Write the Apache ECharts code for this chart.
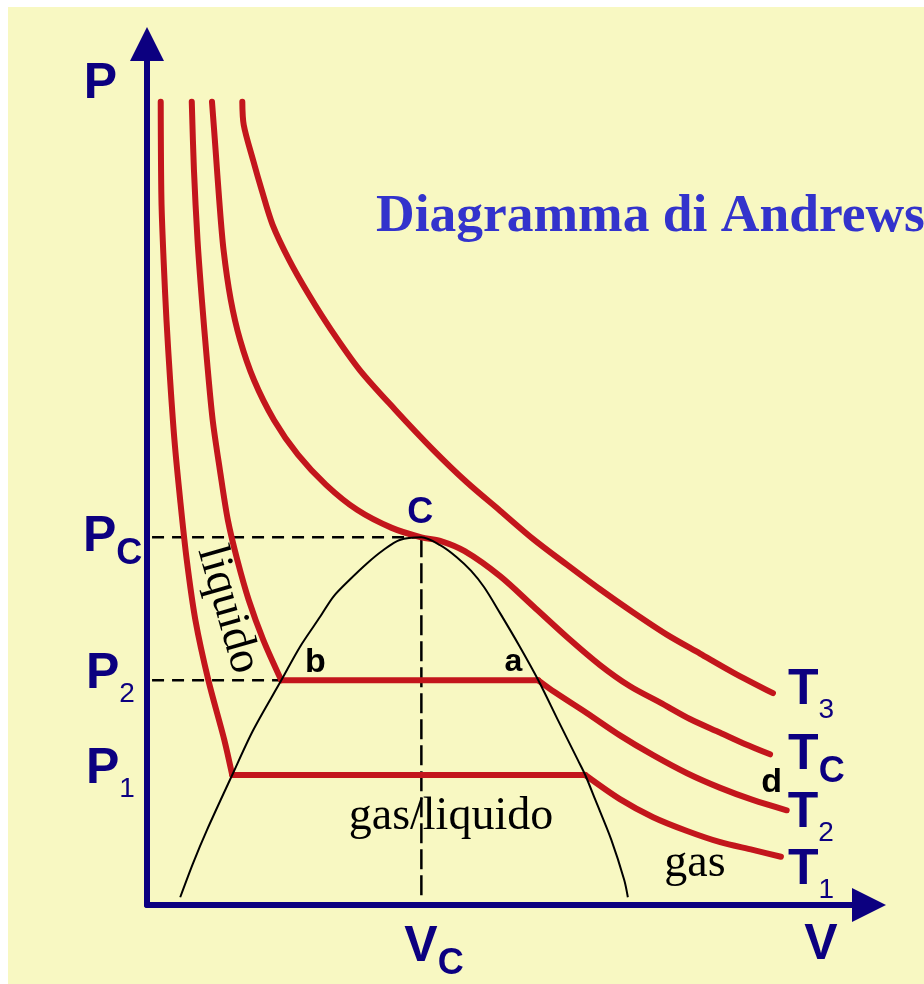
<!DOCTYPE html>
<html>
<head>
<meta charset="utf-8">
<title>Diagramma di Andrews</title>
<script src="https://cdn.jsdelivr.net/npm/echarts@6.0.0/dist/echarts.min.js"></script>
<style>
  html, body { margin: 0; padding: 0; background: #fff; }
  #grafico {
    width: 924px;
    height: 984px;
    background:
      linear-gradient(#fff, #fff) top left / 100% 7px no-repeat,
      linear-gradient(#fff, #fff) top left / 8px 100% no-repeat,
      #f8f8c2;
  }
</style>
</head>
<body>
<div id="grafico"></div>
<script>
const P_C = 42.7;   // pressione critica
const P_2 = 26.1;
const P_1 = 15.1;
const V_C = 38.0;   // volume critico
const V_B = 18.6;   // punto b (inizio condensazione a P2)
const V_A = 54.2;   // punto a (fine condensazione a P2)

// isoterme: ramo liquido, tratto orizzontale, ramo gassoso
const isotermaT1 = [
  [1.9, 93.3], [2.0, 81.9], [2.3, 74.9], [2.7, 67.9], [3.2, 61.0], [3.8, 54.0],
  [4.6, 47.0], [5.5, 40.1], [6.7, 33.1], [8.5, 26.1], [10.7, 19.2], [11.8, 15.1],
  [60.7, 15.1], [65.5, 12.3], [70.1, 10.2], [74.8, 8.6], [79.4, 7.3], [83.9, 6.4], [87.8, 5.6]
];
const isotermaT2 = [
  [6.2, 93.3], [6.5, 85.4], [7.0, 77.2], [7.6, 70.3], [8.3, 63.3], [9.1, 56.3],
  [10.1, 50.5], [11.2, 44.7], [12.5, 40.1], [14.1, 35.4], [16.1, 30.8], [18.6, 26.1],
  [54.2, 26.1], [56.5, 24.7], [60.9, 22.3], [65.5, 19.7], [70.1, 17.4], [74.8, 15.3],
  [79.4, 13.6], [83.9, 12.2], [88.6, 11.0]
];
const isotermaTc = [
  [9.0, 93.3], [9.5, 87.7], [10.0, 81.9], [10.6, 76.1], [11.6, 70.3], [12.9, 65.6],
  [14.8, 61.0], [17.6, 56.3], [20.9, 52.3], [24.8, 48.8], [29.1, 45.9], [33.9, 43.8],
  [38.0, 42.7], [40.6, 42.3], [44.0, 41.1], [48.9, 38.2], [53.5, 34.7], [58.2, 31.1],
  [62.7, 27.9], [66.9, 25.4], [71.1, 23.5], [75.2, 21.6], [79.4, 20.0], [82.8, 18.7],
  [86.3, 17.5]
];
const isotermaT3 = [
  [13.2, 93.3], [13.4, 90.6], [14.7, 86.5], [15.9, 83.0], [17.4, 79.0], [19.7, 74.9],
  [22.4, 70.9], [25.5, 66.8], [29.5, 62.1], [34.4, 57.5], [39.6, 52.9], [44.3, 49.1],
  [48.9, 45.8], [53.5, 42.5], [58.2, 39.5], [62.7, 36.7], [67.3, 34.0], [72.0, 31.4],
  [76.6, 29.2], [81.2, 27.0], [86.7, 24.6]
];
// curva limite (campana di coesistenza)
const curvaLimite = [
  [4.6, 0.9], [6.4, 4.9], [8.3, 8.7], [11.8, 15.1], [14.7, 20.3], [18.6, 26.1],
  [21.2, 30.0], [24.0, 33.5], [25.8, 35.8], [28.1, 37.8], [30.5, 39.7], [32.7, 41.2],
  [35.0, 42.4], [38.0, 42.7], [40.6, 41.8], [42.9, 40.4], [44.9, 38.8], [46.7, 36.9],
  [48.9, 33.9], [51.5, 30.2], [54.2, 26.1], [56.9, 21.5], [59.7, 16.8], [60.7, 15.1],
  [62.1, 12.2], [64.3, 7.6], [66.1, 2.9], [66.6, 0.9]
];
const nomiIsoterme = ['T1', 'T2', 'Tc', 'T3'];
const pediciIsoterme = ['1', '2', 'C', '3'];

// --- stili ---
const BLU = '#0c0080';
const ROSSO = '#c3161c';
const SANS_STRETTO = "'Liberation Sans Narrow', 'Arial Narrow', 'Liberation Sans', Arial, sans-serif";
const SANS = "'Liberation Sans', Arial, sans-serif";
const SERIF = "'Liberation Serif', 'Times New Roman', serif";

const richPedici = {
  m: { fontFamily: SANS_STRETTO, fontWeight: 'bold', fontSize: 50, color: BLU },
  n: { fontFamily: SANS, fontSize: 28, color: BLU, padding: [40, 0, 0, 0] },
  c: { fontFamily: SANS, fontWeight: 'bold', fontSize: 36, color: BLU, padding: [34, 0, 0, 0] }
};

function conPedice(lettera, pedice) {
  const stile = /^\d$/.test(pedice) ? 'n' : 'c';
  return '{m|' + lettera + '}{' + stile + '|' + pedice + '}';
}

// divide l'isoterma nei rami curvi e nel tratto orizzontale (spigoli netti)
function trattiIsoterma(dati) {
  const tratti = [];
  let inizio = 0;
  for (let k = 1; k < dati.length; k++) {
    if (dati[k][1] === dati[k - 1][1]) {
      tratti.push(dati.slice(inizio, k));
      tratti.push([dati[k - 1], dati[k]]);
      inizio = k;
    }
  }
  tratti.push(dati.slice(inizio));
  return tratti;
}

// spostamento delle etichette T rispetto alla fine di ogni isoterma
const spostamentiT = [[7, 13], [1, 3], [18, 1], [15, -3]];

const isoterme = [];
[isotermaT1, isotermaT2, isotermaTc, isotermaT3].forEach((dati, i) => {
  const tratti = trattiIsoterma(dati);
  tratti.forEach((tratto, j) => {
    const ultimo = j === tratti.length - 1;
    isoterme.push({
      name: nomiIsoterme[i],
      type: 'line',
      data: tratto,
      symbol: 'none',
      smooth: tratto.length > 2 ? 0.3 : false,
      silent: true,
      z: 3,
      lineStyle: { color: ROSSO, width: 6, join: 'round', cap: 'round' },
      endLabel: {
        show: ultimo,
        distance: 0,
        offset: spostamentiT[i],
        formatter: () => conPedice('T', pediciIsoterme[i]),
        rich: richPedici
      }
    });
  });
});

const tratteggio = (dati, dash) => ({
  type: 'line',
  data: dati,
  symbol: 'none',
  silent: true,
  z: 2,
  lineStyle: { color: '#000', width: 2.5, type: dash }
});

const testoNero = (testo, font, size, extra) => Object.assign({
  show: true,
  position: 'inside',
  formatter: testo,
  color: '#000',
  opacity: 1,
  fontFamily: font,
  fontSize: size
}, extra || {});

const conPediceLabel = (lettera, pedice, offset) => ({
  show: true,
  position: 'inside',
  align: 'left',
  opacity: 1,
  offset: offset,
  formatter: conPedice(lettera, pedice),
  rich: richPedici
});

const etichette = [
  { value: [0, P_C], label: conPediceLabel('P', 'C', [-64, 0]) },
  { value: [0, P_2], label: conPediceLabel('P', '2', [-61, -6]) },
  { value: [0, P_1], label: conPediceLabel('P', '1', [-61, -6]) },
  { value: [V_C, 0], label: conPediceLabel('V', 'C', [-17, 42]) },
  { value: [V_C, P_C], label: testoNero('C', SANS, 36, { color: BLU, fontWeight: 'bold', offset: [-1, -24] }) },
  { value: [V_B, P_2], label: testoNero('b', SANS, 34, { fontWeight: 'bold', offset: [34, -18] }) },
  { value: [V_A, P_2], label: testoNero('a', SANS, 32, { fontWeight: 'bold', offset: [-25, -18] }) },
  { value: isotermaT2[isotermaT2.length - 1], label: testoNero('d', SANS, 34, { fontWeight: 'bold', offset: [-15, -28] }) },
  { value: [11.2, 34.3], label: testoNero('liquido', SERIF, 46, { rotate: -74 }) },
  { value: [42.1, 10.2], label: testoNero('gas/liquido', SERIF, 46) },
  { value: [75.9, 4.8], label: testoNero('gas', SERIF, 46) }
];

const chart = echarts.init(document.getElementById('grafico'), null, { renderer: 'canvas' });

const option = {
  backgroundColor: 'transparent',
  animation: false,
  title: {
    text: 'Diagramma di Andrews',
    left: 376,
    top: 190,
    padding: 0,
    textStyle: { fontFamily: SERIF, fontWeight: 'bold', fontSize: 53.5, color: '#3333cc' }
  },
  grid: { left: 147, right: 55, top: 44, bottom: 79, containLabel: false, outerBoundsMode: 'none' },
  xAxis: {
    type: 'value',
    min: 0,
    max: 100,
    name: 'V',
    nameLocation: 'end',
    nameGap: -48,
    nameMoveOverlap: false,
    nameTextStyle: {
      fontFamily: SANS_STRETTO, fontWeight: 'bold', fontSize: 50, color: BLU,
      align: 'center', verticalAlign: 'top', lineHeight: 80
    },
    axisLine: {
      show: true,
      lineStyle: { color: BLU, width: 6 },
      symbol: ['none', 'triangle'],
      symbolSize: [34, 34]
    },
    axisTick: { show: false },
    axisLabel: { show: false },
    splitLine: { show: false }
  },
  yAxis: {
    type: 'value',
    min: 0,
    max: 100,
    name: 'P',
    nameLocation: 'end',
    nameGap: -40,
    nameMoveOverlap: false,
    nameTextStyle: {
      fontFamily: SANS_STRETTO, fontWeight: 'bold', fontSize: 50, color: BLU,
      align: 'right', verticalAlign: 'middle', padding: [0, 30, 0, 0]
    },
    axisLine: {
      show: true,
      lineStyle: { color: BLU, width: 6 },
      symbol: ['none', 'triangle'],
      symbolSize: [34, 34]
    },
    axisTick: { show: false },
    axisLabel: { show: false },
    splitLine: { show: false }
  },
  series: [
    tratteggio([[0.7, P_C], [V_C, P_C]], [12, 8]),
    tratteggio([[0.7, P_2], [V_B, P_2]], [12, 8]),
    tratteggio([[V_C, P_C], [V_C, 0.9]], [20, 6]),
    ...isoterme,
    {
      name: 'curva limite',
      type: 'line',
      data: curvaLimite,
      symbol: 'none',
      smooth: 0.3,
      silent: true,
      z: 4,
      lineStyle: { color: '#000', width: 2 }
    },
    {
      name: 'etichette',
      type: 'scatter',
      data: etichette,
      symbolSize: 0,
      itemStyle: { opacity: 1 },
      silent: true,
      z: 5
    }
  ]
};

chart.setOption(option);
</script>
</body>
</html>
